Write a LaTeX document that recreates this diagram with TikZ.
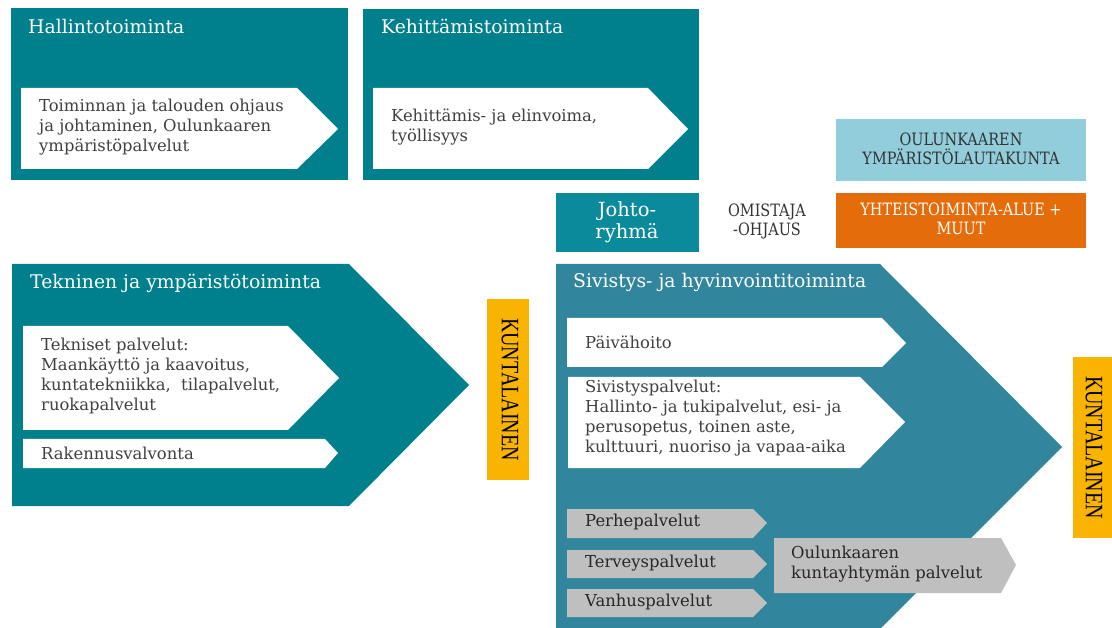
\documentclass[tikz,border=0pt]{standalone}
\usepackage{fontspec}
\setmainfont{DejaVu Serif}
\newfontfamily\capsfont[FakeStretch=0.85]{DejaVu Serif}
\newfontfamily\kfont{Liberation Serif}
\definecolor{tealA}{HTML}{007F8C}
\definecolor{tealJ}{HTML}{0A8A9B}
\definecolor{tealS}{HTML}{31859C}
\definecolor{lblue}{HTML}{92CDDC}
\definecolor{orng}{HTML}{E46C0A}
\definecolor{yell}{HTML}{F8B400}
\definecolor{greyA}{HTML}{BFBFBF}
\definecolor{txtgrey}{HTML}{404040}
\tikzset{
  title/.style={anchor=west, inner sep=0pt, text=white, font=\fontsize{18.8}{22}\selectfont},
  body/.style={anchor=west, inner sep=0pt, text=txtgrey, align=left, font=\fontsize{16.4}{19.8}\selectfont},
  gbody/.style={anchor=west, inner sep=0pt, text=black!85, align=left, font=\fontsize{16.4}{20}\selectfont},
  capst/.style={inner sep=0pt, align=center, font=\capsfont\fontsize{17}{19}\selectfont},
  kunta/.style={inner sep=0pt, rotate=-90, text=black, font=\kfont\fontsize{20}{20}\selectfont},
}
\begin{document}
\begin{tikzpicture}[x=1pt,y=-1pt]
\useasboundingbox (0,0) rectangle (1112,628);
% Hallintotoiminta
\fill[tealA] (11,8) rectangle (348,180);
\fill[white] (21,88) -- (297,88) -- (338,129) -- (297,169) -- (21,169) -- cycle;
\node[title] (hal) at (28,26) {Hallintotoiminta};
\node[body] (halt) at (39,127) {Toiminnan ja talouden ohjaus\\ja johtaminen, Oulunkaaren\\ympäristöpalvelut};
% Kehittamistoiminta
\fill[tealA] (363,9) rectangle (699,180);
\fill[white] (373,88) -- (648,88) -- (688,129) -- (648,169) -- (373,169) -- cycle;
\node[title] (keh) at (381,26) {Kehittämistoiminta};
\node[body] (keht) at (391,127) {Kehittämis- ja elinvoima,\\työllisyys};
% Johtoryhma
\fill[tealJ] (556,193) rectangle (699,252);
\node[inner sep=0pt, align=center, text=white, font=\fontsize{19.5}{22}\selectfont] (joh) at (627,222) {Johto-\\ryhmä};
\node[capst, text=black!80] (omi) at (767,221) {OMISTAJA\\-OHJAUS};
% right boxes
\fill[lblue] (836,119) rectangle (1086,181);
\node[capst, text=black!80] (lauta) at (961,149) {OULUNKAAREN\\YMPÄRISTÖLAUTAKUNTA};
\fill[orng] (836,193) rectangle (1086,248);
\node[capst, text=white] (yht) at (961,219) {YHTEISTOIMINTA-ALUE +\\MUUT};
% Tekninen
\fill[tealA] (12,264) -- (349,264) -- (469,385) -- (349,506) -- (12,506) -- cycle;
\fill[white] (23,326) -- (288,326) -- (339,378) -- (288,430) -- (23,430) -- cycle;
\fill[white] (23,439) -- (325,439) -- (338,453) -- (325,468) -- (23,468) -- cycle;
\node[title] (tek) at (30,283) {Tekninen ja ympäristötoiminta};
\node[body] (tekt) at (41,376) {Tekniset palvelut:\\Maankäyttö ja kaavoitus,\\kuntatekniikka,\ \ tilapalvelut,\\ruokapalvelut};
\node[body] (rak) at (41,453) {Rakennusvalvonta};
\fill[yell] (487,299) rectangle (529,480);
\node[kunta] (k1) at (510,389.5) {\scalebox{1}[1.25]{KUNTALAINEN}};
% Sivistys
\fill[tealS] (556,264) -- (880,264) -- (1062,447) -- (881,628) -- (556,628) -- cycle;
\node[title] (siv) at (573,282) {Sivistys- ja hyvinvointitoiminta};
\fill[white] (567,318) -- (882,318) -- (906,343) -- (882,367) -- (567,367) -- cycle;
\node[body] (pai) at (585,342) {Päivähoito};
\fill[white] (568,377) -- (860,377) -- (905,422) -- (860,468) -- (568,468) -- cycle;
\node[body] (sivt) at (585,418) {Sivistyspalvelut:\\Hallinto- ja tukipalvelut, esi- ja\\perusopetus, toinen aste,\\kulttuuri, nuoriso ja vapaa-aika};
\fill[yell] (1073,357) rectangle (1112,538);
\node[kunta] (k2) at (1094,447.5) {\scalebox{1}[1.25]{KUNTALAINEN}};
% grey arrows
\fill[greyA] (567,509) -- (753,509) -- (767,523) -- (753,538) -- (567,538) -- cycle;
\node[gbody] (per) at (585,522) {Perhepalvelut};
\fill[greyA] (567,550) -- (753,550) -- (767,564) -- (753,578) -- (567,578) -- cycle;
\node[gbody] (ter) at (585,563) {Terveyspalvelut};
\fill[greyA] (567,589) -- (753,589) -- (767,603) -- (753,617) -- (567,617) -- cycle;
\node[gbody] (van) at (585,602) {Vanhuspalvelut};
\fill[greyA] (774,538) -- (1001,538) -- (1016,565) -- (1001,593) -- (774,593) -- cycle;
\node[gbody] (oul) at (791,564) {Oulunkaaren\\kuntayhtymän palvelut};
\end{tikzpicture}
\end{document}
